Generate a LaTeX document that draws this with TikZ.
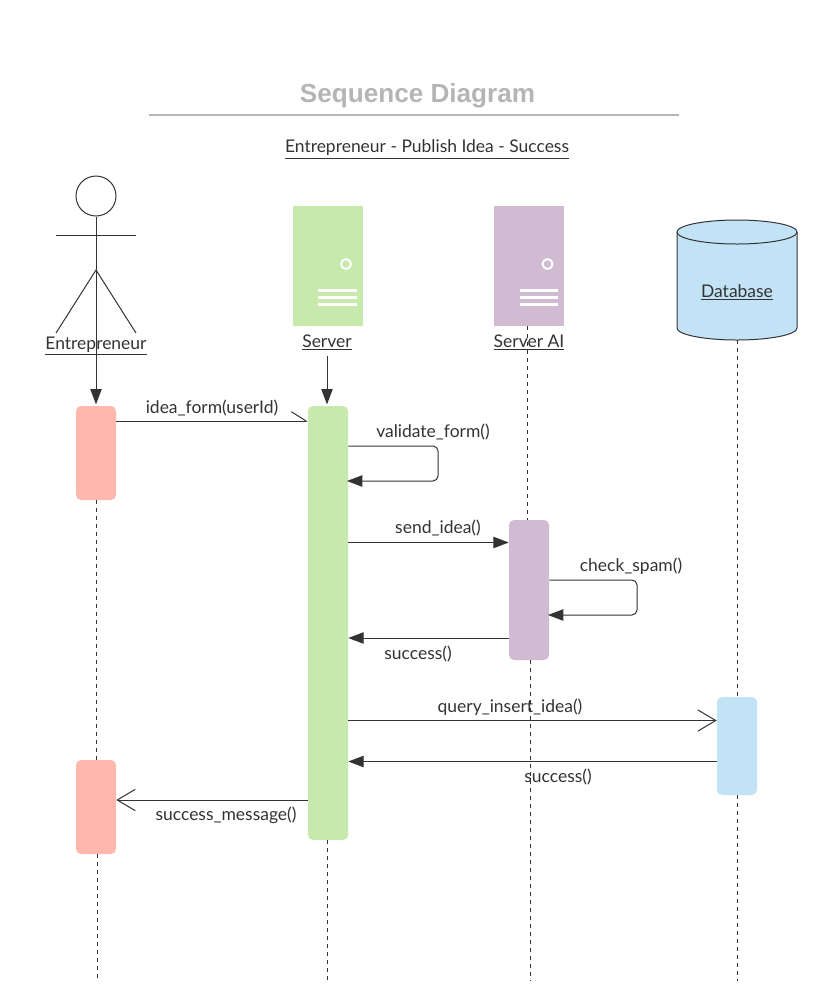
\documentclass[tikz,border=0pt]{standalone}
\usepackage{fontspec}
\setmainfont{Lato}
\newfontfamily\titlefont{Liberation Sans}
\usepackage{tikz}
\usetikzlibrary{positioning, arrows.meta}
\definecolor{seqInk}{HTML}{333333}
\definecolor{seqGreen}{HTML}{C7E9AB}
\definecolor{seqPink}{HTML}{FFB8AE}
\definecolor{seqPurple}{HTML}{D1BBD2}
\definecolor{seqBlue}{HTML}{C2E3F6}
\definecolor{seqGrey}{HTML}{B5B5B5}

\begin{document}
\begin{tikzpicture}[
    x=0.75pt, y=-0.75pt,
    bar/.style={rounded corners=3.75pt, minimum width=30pt, inner sep=0pt},
    srv/.style={minimum width=52.5pt, minimum height=90pt, inner sep=0pt},
    who/.style={font=\fontsize{13.1}{15}\selectfont, text=seqInk, inner sep=0pt, yshift=-1pt},
    msg/.style={font=\fontsize{13.1}{15}\selectfont, text=seqInk, inner sep=0pt, yshift=-0.6pt},
    stick/.style={draw=seqInk, line width=0.75pt},
    life/.style={draw=seqInk, line width=0.75pt, dash pattern=on 3pt off 3pt},
    solid arr/.style={draw=seqInk, line width=0.75pt, -{Triangle[length=11.5pt, width=8.5pt, fill=seqInk]}},
    open arr/.style={draw=seqInk, line width=0.75pt, -{Straight Barb[length=13.5pt, width=16pt, line width=0.75pt]}},
    half arr/.style={draw=seqInk, line width=0.75pt, -{Straight Barb[length=11pt, width=14pt, line width=0.75pt, left]}},
    loop arr/.style={solid arr, rounded corners=3.75pt, shorten >=-1pt},
    ring/.style={circle, draw=white, line width=1.5pt, minimum size=7.5pt, inner sep=0pt},
    slot/.style={draw=white, line width=2.2pt},
]
\useasboundingbox (0,0) rectangle (840,1008);

% heading
\node[font=\titlefont\bfseries\fontsize{19.6}{22}\selectfont, text=seqGrey] (title) at (417.5,95.5) {Sequence Diagram};
\coordinate (ruleL) at (149,115);
\coordinate (ruleR) at (679,115);
\draw[draw=seqGrey, line width=1pt] (ruleL) -- (ruleR);
\node[who] (subtitle) at (427,148) {\underline{Entrepreneur - Publish Idea - Success}};

% participants
\node[circle, stick, minimum size=30pt, inner sep=0pt] (head) at (96,196) {};
\coordinate (hip) at (96,270);
\coordinate (armL) at (56,235);
\coordinate (armR) at (136,235);
\coordinate (footL) at (56,333);
\coordinate (footR) at (136,333);
\node[who] (entName) at (96,345) {\underline{Entrepreneur}};

\node[srv, fill=seqGreen] (server) at (328,266) {};
\node[ring] (serverLed) at (346,264) {};
\node[who] (serverName) at (327,341) {\underline{Server}};
\node[srv, fill=seqPurple] (serverAi) at (529,266) {};
\node[ring] (aiLed) at (547.5,264) {};

% database drum
\draw[stick, fill=seqBlue] (677,232) -- (677,328)
    arc[start angle=180, end angle=360, x radius=45pt, y radius=9pt] -- (797,232);
\draw[stick, fill=seqBlue] (737,232) ellipse[x radius=45pt, y radius=9pt];
\node[who] (dbName) at (737,291) {\underline{Database}};

% activation bars
\node[bar, fill=seqPink, minimum height=70.5pt] (entBarA) at (96,453) {};
\node[bar, fill=seqPink, minimum height=70.5pt] (entBarB) at (96,807) {};
\node[bar, fill=seqGreen, minimum height=325.5pt] (serverBar) at (328,623) {};
\node[bar, fill=seqPurple, minimum height=105pt] (aiBar) at (529,590) {};
\node[bar, fill=seqBlue, minimum height=73.5pt] (dbBar) at (737,746) {};

% lifeline ends
\coordinate (entLow) at (97.5,854);
\coordinate (entEnd) at (97.5,981);
\coordinate (serverLow) at (327,840);
\coordinate (serverEnd) at (327,981);
\coordinate (aiTop) at (527,326);
\coordinate (aiTurn) at (527,520);
\coordinate (aiLow) at (530,660);
\coordinate (aiEnd) at (530,981);
\coordinate (dbTop) at (737.5,340);
\coordinate (dbMid) at (737.5,697);
\coordinate (dbLow) at (737.5,795);
\coordinate (dbEnd) at (737.5,981);

\draw[life] (entBarA.south) -- (entBarB.north);
\draw[life] (entLow) -- (entEnd);
\draw[life] (serverLow) -- (serverEnd);
\draw[life] (aiTop) -- (aiTurn);
\draw[life] (aiLow) -- (aiEnd);
\draw[life] (dbTop) -- (dbMid);
\draw[life] (dbLow) -- (dbEnd);

% stick figure
\draw[stick] (head.south) -- (hip);
\draw[stick] (armL) -- (armR);
\draw[stick] (footL) -- (hip) -- (footR);
\draw[solid arr, shorten >=1pt] (hip) -- (entBarA.north);
\coordinate (serverDrop) at (327,356);
\draw[solid arr, shorten >=1pt] (serverDrop) -- (serverDrop |- serverBar.north);

% server slots
\foreach \y in {290.5,297.5,304.5} {
    \draw[slot] (318,\y) -- (357,\y);
    \draw[slot] (520,\y) -- (558,\y);
}

% messages
\draw[half arr] (entBarA.east |- 0,421) -- (serverBar.west |- 0,421);
\node[msg] (ideaForm) at (212,407) {idea\_form(userId)};

\draw[loop arr] (serverBar.east |- 0,446) -| (438,481) -- (serverBar.east |- 0,481);
\node[msg] (validateForm) at (433,431) {validate\_form()};

\draw[solid arr] (serverBar.east |- 0,542.5) -- (aiBar.west |- 0,542.5);
\node[msg] (sendIdea) at (438,527) {send\_idea()};

\draw[loop arr] (aiBar.east |- 0,580) -| (637,615) -- (aiBar.east |- 0,615);
\node[msg] (checkSpam) at (631,565) {check\_spam()};

\draw[solid arr] (aiBar.west |- 0,638) -- (serverBar.east |- 0,638);
\node[msg] (aiSuccess) at (418,653) {success()};

\draw[open arr] (serverBar.east |- 0,720.5) -- (dbBar.west |- 0,720.5);
\node[msg] (queryInsert) at (510,706) {query\_insert\_idea()};

\draw[solid arr] (dbBar.west |- 0,761.5) -- (serverBar.east |- 0,761.5);
\node[msg] (dbSuccess) at (558,776) {success()};

\draw[open arr] (serverBar.west |- 0,800) -- (entBarB.east |- 0,800);
\node[msg] (successMsg) at (226,815) {success\_message()};

% label stays on top of its lifeline
\node[who] (aiName) at (529,341) {\underline{Server AI}};
\end{tikzpicture}
\end{document}
